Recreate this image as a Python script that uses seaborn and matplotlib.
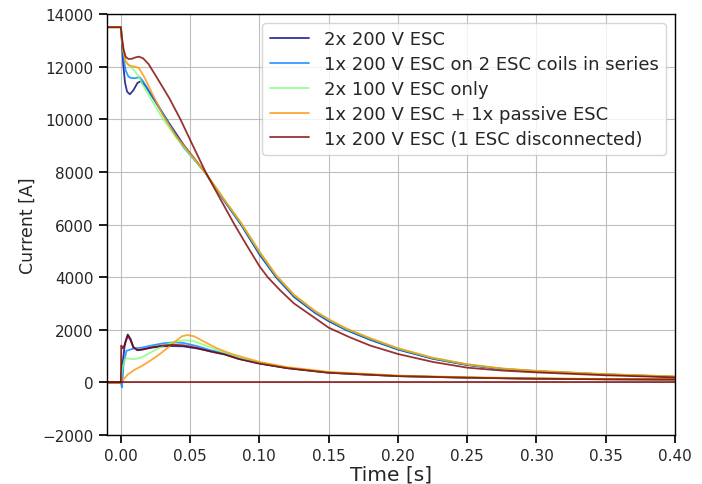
import numpy as np
import pandas as pd
import matplotlib
matplotlib.use("Agg")
import matplotlib.pyplot as plt
from matplotlib.lines import Line2D
import seaborn as sns

# ---------------- data ----------------
configs = [
    "2x 200 V ESC",
    "1x 200 V ESC on 2 ESC coils in series",
    "2x 100 V ESC only",
    "1x 200 V ESC + 1x passive ESC",
    "1x 200 V ESC (1 ESC disconnected)",
]

# main coil current, 2x 200 V ESC
main_a_t = [-0.01, 0.0, 0.0007, 0.0017, 0.003, 0.0045, 0.0065, 0.009, 0.012, 0.0145, 0.018, 0.024, 0.033, 0.045, 0.061,
            0.074, 0.0867, 0.10, 0.112, 0.125, 0.14, 0.15, 0.1623, 0.18, 0.20, 0.225, 0.25, 0.275, 0.30, 0.35, 0.40]
main_a_v = [13500, 13500, 13000, 12100, 11400, 11050, 10950, 11100, 11380, 11450, 11250, 10750, 10000, 9050, 7970,
            6950, 6000, 4870, 4000, 3250, 2650, 2330, 2000, 1620, 1250, 900, 660, 510, 420, 300, 210]
# main coil current, 1x 200 V ESC on 2 ESC coils in series
main_b_t = [-0.01, 0.0, 0.0008, 0.002, 0.0035, 0.0055, 0.0075, 0.010, 0.0135, 0.016, 0.020, 0.026, 0.033, 0.045, 0.061,
            0.074, 0.0867, 0.10, 0.112, 0.125, 0.14, 0.15, 0.1623, 0.18, 0.20, 0.225, 0.25, 0.275, 0.30, 0.35, 0.40]
main_b_v = [13500, 13500, 13000, 12300, 11850, 11620, 11570, 11560, 11600, 11450, 11100, 10600, 9980, 8950, 7970,
            6960, 6020, 4900, 4030, 3280, 2670, 2350, 2010, 1630, 1260, 910, 670, 515, 425, 305, 215]
# main coil current, 2x 100 V ESC only
main_c_t = [-0.01, 0.0, 0.0008, 0.002, 0.0035, 0.005, 0.008, 0.012, 0.016, 0.022, 0.030, 0.040, 0.050, 0.061,
            0.074, 0.0867, 0.10, 0.112, 0.125, 0.14, 0.15, 0.1623, 0.18, 0.20, 0.225, 0.25, 0.275, 0.30, 0.35, 0.40]
main_c_v = [13500, 13500, 13050, 12550, 12220, 12100, 11950, 11700, 11300, 10750, 10050, 9300, 8650, 7970,
            6990, 6060, 4960, 4070, 3320, 2710, 2390, 2050, 1670, 1290, 930, 685, 525, 435, 312, 222]
# main coil current, 1x 200 V ESC + 1x passive ESC
main_d_t = [-0.01, 0.0, 0.0008, 0.002, 0.0035, 0.0055, 0.008, 0.010, 0.013, 0.017, 0.022, 0.030, 0.040, 0.050, 0.061,
            0.074, 0.0867, 0.10, 0.112, 0.125, 0.14, 0.15, 0.1623, 0.18, 0.20, 0.225, 0.25, 0.275, 0.30, 0.35, 0.40]
main_d_v = [13500, 13500, 13050, 12550, 12200, 12060, 12020, 12000, 11950, 11600, 11050, 10200, 9350, 8700, 7970,
            7000, 6070, 4980, 4080, 3330, 2720, 2400, 2060, 1680, 1300, 940, 690, 530, 440, 315, 225]
# main coil current, 1x 200 V ESC (1 ESC disconnected)
main_e_t = [-0.01, 0.0, 0.0008, 0.002, 0.0035, 0.0055, 0.008, 0.0105, 0.013, 0.016, 0.020, 0.027, 0.035, 0.043, 0.052, 0.0614,
            0.072, 0.082, 0.091, 0.10, 0.106, 0.115, 0.125, 0.14, 0.15, 0.165, 0.18, 0.20, 0.225, 0.25, 0.275, 0.30, 0.35, 0.40]
main_e_v = [13500, 13500, 13100, 12650, 12380, 12290, 12300, 12350, 12380, 12320, 12100, 11500, 10800, 10000, 9000, 7970,
            6950, 6000, 5200, 4420, 4000, 3500, 3000, 2450, 2080, 1720, 1400, 1080, 780, 560, 450, 380, 270, 190]

# ESC coil currents
esc_a_t = [-0.01, 0.0, 0.001, 0.003, 0.005, 0.007, 0.009, 0.012, 0.016, 0.022, 0.030, 0.038, 0.045,
           0.055, 0.065, 0.075, 0.085, 0.10, 0.12, 0.15, 0.20, 0.25, 0.30, 0.35, 0.40]
esc_a_v = [0, 0, 600, 1500, 1820, 1650, 1350, 1230, 1260, 1320, 1370, 1380, 1370,
           1290, 1180, 1070, 900, 720, 545, 370, 240, 180, 140, 120, 110]
esc_b_t = [-0.01, 0.0, 0.0008, 0.002, 0.004, 0.007, 0.010, 0.015, 0.022, 0.030, 0.038, 0.045,
           0.055, 0.065, 0.075, 0.085, 0.10, 0.12, 0.15, 0.20, 0.25, 0.30, 0.35, 0.40]
esc_b_v = [0, 0, -190, 700, 1200, 1250, 1300, 1320, 1400, 1480, 1520, 1500,
           1380, 1220, 1100, 920, 730, 550, 375, 242, 182, 142, 121, 111]
esc_c_t = [-0.01, 0.0, 0.001, 0.003, 0.006, 0.010, 0.015, 0.022, 0.030, 0.038, 0.045, 0.052,
           0.060, 0.070, 0.080, 0.090, 0.10, 0.12, 0.15, 0.20, 0.25, 0.30, 0.35, 0.40]
esc_c_v = [0, 0, 500, 920, 900, 880, 950, 1150, 1380, 1530, 1600, 1580,
           1430, 1220, 1050, 880, 750, 560, 380, 245, 185, 145, 123, 112]
esc_d_t = [-0.01, 0.0, 0.005, 0.010, 0.015, 0.022, 0.030, 0.038, 0.044, 0.048, 0.053,
           0.060, 0.070, 0.080, 0.090, 0.10, 0.12, 0.15, 0.20, 0.25, 0.30, 0.35, 0.40]
esc_d_v = [0, 0, 300, 480, 620, 850, 1150, 1500, 1750, 1800, 1750,
           1550, 1280, 1080, 930, 780, 580, 400, 260, 195, 155, 130, 115]
esc_e_t = [-0.01, 0.0, 0.0003, 0.0015, 0.003, 0.005, 0.007, 0.009, 0.012, 0.016, 0.022, 0.030, 0.038,
           0.045, 0.055, 0.065, 0.075, 0.085, 0.10, 0.12, 0.15, 0.20, 0.25, 0.30, 0.35, 0.40]
esc_e_v = [0, 0, 1400, 1300, 1450, 1780, 1600, 1330, 1220, 1250, 1330, 1400, 1430,
           1410, 1310, 1170, 1060, 890, 715, 540, 365, 238, 178, 138, 118, 108]
# disconnected ESC coil
esc_off_t = [-0.01, 0.40]
esc_off_v = [0, 0]

curves = [
    (configs[0], "main", main_a_t, main_a_v),
    (configs[1], "main", main_b_t, main_b_v),
    (configs[2], "main", main_c_t, main_c_v),
    (configs[3], "main", main_d_t, main_d_v),
    (configs[4], "main", main_e_t, main_e_v),
    (configs[0], "esc", esc_a_t, esc_a_v),
    (configs[1], "esc", esc_b_t, esc_b_v),
    (configs[2], "esc", esc_c_t, esc_c_v),
    (configs[3], "esc", esc_d_t, esc_d_v),
    (configs[4], "esc", esc_e_t, esc_e_v),
    (configs[4], "esc_off", esc_off_t, esc_off_v),
]

rows = []
for cfg, coil, ts, vs in curves:
    for t, v in zip(ts, vs):
        rows.append({"Time": t, "Current": v, "config": cfg, "coil": coil})
df = pd.DataFrame(rows)

# ---------------- style ----------------
sns.set_theme(style="ticks")
plt.rcParams["font.family"] = ["DejaVu Sans"]
plt.rcParams["axes.edgecolor"] = "black"
plt.rcParams["xtick.color"] = "black"
plt.rcParams["ytick.color"] = "black"

jet = plt.get_cmap("jet")
colors = [jet(x) for x in np.linspace(0, 1, len(configs))]
palette = dict(zip(configs, colors))

fig = plt.figure(figsize=(7.02, 4.85), dpi=100)
ax = fig.add_axes([0.1524, 0.101, 0.8091, 0.868])

sns.lineplot(data=df, x="Time", y="Current", hue="config", units="coil",
             estimator=None, sort=False, palette=palette, hue_order=configs,
             linewidth=1.3, alpha=0.8, legend=False, ax=ax)

ax.set_xlim(-0.01, 0.40)
ax.set_ylim(-2000, 14000)
ax.set_xticks(np.arange(0, 0.401, 0.05))
ax.set_yticks(np.arange(-2000, 14001, 2000))
ax.grid(True, color="#b0b0b0", linewidth=0.8, alpha=0.8)
ax.tick_params(axis="both", labelsize=11, colors="black", labelcolor="#262626")
ax.set_xlabel("Time [s]", fontsize=14.5, color="#262626", labelpad=1)
ax.set_ylabel("Current [A]", fontsize=12.5, color="#262626")
for s in ax.spines.values():
    s.set_color("black")
    s.set_linewidth(1.0)

handles = [Line2D([], [], color=palette[c], lw=1.3, alpha=0.8) for c in configs]
ax.legend(handles, configs, loc="upper right", fontsize=13, frameon=True,
          framealpha=0.8, edgecolor="#cccccc", fancybox=True,
          labelspacing=0.38, handlelength=2.2)

fig.savefig("out.png", dpi=100)
